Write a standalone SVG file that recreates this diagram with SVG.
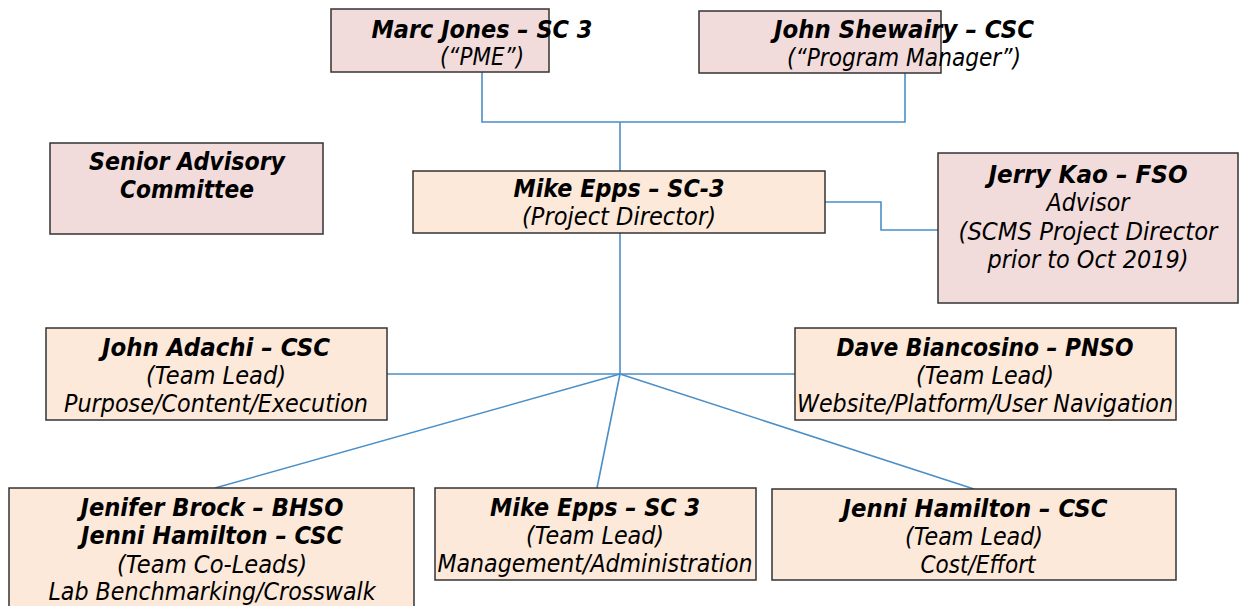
<svg xmlns="http://www.w3.org/2000/svg" width="1239" height="606" viewBox="0 0 1239 606">
<style>
.pink{fill:#f2dcdb;stroke:#333;stroke-width:1.5}
.peach{fill:#fde9d9;stroke:#333;stroke-width:1.5}
text{font-family:"DejaVu Sans",Verdana,sans-serif;font-size:24px;font-style:italic;fill:#000;text-anchor:middle}
.b{font-weight:bold}
.c{fill:none;stroke:#4a8fc7;stroke-width:1.6}
</style>
<rect width="1239" height="606" fill="#fff"/>
<g id="connectors">
<path class="c" d="M482,72 V122 H905 V73"/>
<path class="c" d="M620,122 V171"/>
<path class="c" d="M825,202 H881 V230 H938"/>
<path class="c" d="M620,233 V374"/>
<path class="c" d="M387,374 H795"/>
<path class="c" d="M620,374 L215,488"/>
<path class="c" d="M620,374 L597,488"/>
<path class="c" d="M620,374 L974,489"/>
</g>
<g id="marc">
<rect class="pink" x="331" y="9" width="218" height="63"/>
<text class="b" x="482" y="38" textLength="221" lengthAdjust="spacingAndGlyphs">Marc Jones – SC 3</text>
<text x="482" y="65" textLength="84" lengthAdjust="spacingAndGlyphs">(“PME”)</text>
</g>
<g id="john-shewairy">
<rect class="pink" x="699" y="11" width="242" height="62"/>
<text class="b" x="904" y="38" textLength="260" lengthAdjust="spacingAndGlyphs">John Shewairy – CSC</text>
<text x="904" y="66" textLength="234" lengthAdjust="spacingAndGlyphs">(“Program Manager”)</text>
</g>
<g id="senior">
<rect class="pink" x="50" y="143" width="273" height="91"/>
<text class="b" x="187" y="170" textLength="196" lengthAdjust="spacingAndGlyphs">Senior Advisory</text>
<text class="b" x="187" y="198" textLength="134" lengthAdjust="spacingAndGlyphs">Committee</text>
</g>
<g id="mike-director">
<rect class="peach" x="413" y="171" width="412" height="62"/>
<text class="b" x="619" y="197" textLength="211" lengthAdjust="spacingAndGlyphs">Mike Epps – SC-3</text>
<text x="619" y="225" textLength="194" lengthAdjust="spacingAndGlyphs">(Project Director)</text>
</g>
<g id="jerry">
<rect class="pink" x="938" y="153" width="300" height="150"/>
<text class="b" x="1088" y="183" textLength="199" lengthAdjust="spacingAndGlyphs">Jerry Kao – FSO</text>
<text x="1088" y="211" textLength="83" lengthAdjust="spacingAndGlyphs">Advisor</text>
<text x="1088" y="240" textLength="259" lengthAdjust="spacingAndGlyphs">(SCMS Project Director</text>
<text x="1088" y="268" textLength="201" lengthAdjust="spacingAndGlyphs">prior to Oct 2019)</text>
</g>
<g id="adachi">
<rect class="peach" x="46" y="328" width="341" height="92"/>
<text class="b" x="216" y="356" textLength="228" lengthAdjust="spacingAndGlyphs">John Adachi – CSC</text>
<text x="216" y="384" textLength="140" lengthAdjust="spacingAndGlyphs">(Team Lead)</text>
<text x="216" y="412" textLength="304" lengthAdjust="spacingAndGlyphs">Purpose/Content/Execution</text>
</g>
<g id="dave">
<rect class="peach" x="795" y="328" width="381" height="92"/>
<text class="b" x="985" y="356" textLength="297" lengthAdjust="spacingAndGlyphs">Dave Biancosino – PNSO</text>
<text x="985" y="384" textLength="138" lengthAdjust="spacingAndGlyphs">(Team Lead)</text>
<text x="985" y="412" textLength="376" lengthAdjust="spacingAndGlyphs">Website/Platform/User Navigation</text>
</g>
<g id="jenifer">
<rect class="peach" x="9" y="488" width="405" height="130"/>
<text class="b" x="212" y="516" textLength="263" lengthAdjust="spacingAndGlyphs">Jenifer Brock – BHSO</text>
<text class="b" x="212" y="544" textLength="262" lengthAdjust="spacingAndGlyphs">Jenni Hamilton – CSC</text>
<text x="212" y="573" textLength="190" lengthAdjust="spacingAndGlyphs">(Team Co-Leads)</text>
<text x="212" y="600" textLength="327" lengthAdjust="spacingAndGlyphs">Lab Benchmarking/Crosswalk</text>
</g>
<g id="mike-lead">
<rect class="peach" x="435" y="488" width="321" height="92"/>
<text class="b" x="595" y="516" textLength="210" lengthAdjust="spacingAndGlyphs">Mike Epps – SC 3</text>
<text x="595" y="544" textLength="138" lengthAdjust="spacingAndGlyphs">(Team Lead)</text>
<text x="595" y="572" textLength="315" lengthAdjust="spacingAndGlyphs">Management/Administration</text>
</g>
<g id="jenni">
<rect class="peach" x="772" y="489" width="404" height="91"/>
<text class="b" x="975" y="517" textLength="265" lengthAdjust="spacingAndGlyphs">Jenni Hamilton – CSC</text>
<text x="974" y="545" textLength="138" lengthAdjust="spacingAndGlyphs">(Team Lead)</text>
<text x="978" y="573" textLength="115" lengthAdjust="spacingAndGlyphs">Cost/Effort</text>
</g>
</svg>
